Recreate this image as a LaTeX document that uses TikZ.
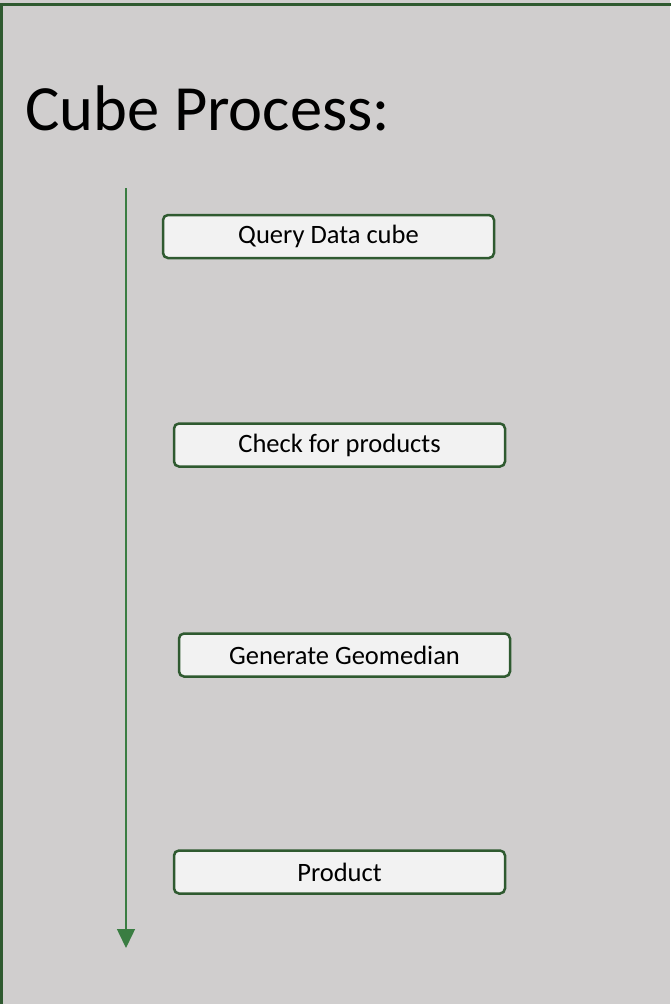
\documentclass[tikz,border=0pt]{standalone}
\usepackage{fontspec}
\setmainfont{Carlito}
\usetikzlibrary{arrows.meta}
\definecolor{cubebg}{HTML}{D0CECE}
\definecolor{cubeframe}{HTML}{2F5A30}
\definecolor{cubearrow}{HTML}{3A7D42}
\definecolor{stepfill}{HTML}{F2F2F2}
\tikzset{
  stepbox/.style={draw=cubeframe, fill=stepfill, line width=2.5pt,
    rounded corners=5pt, minimum width=331pt, minimum height=43pt,
    inner sep=0pt, font=\fontsize{26.5}{30}\selectfont},
  time arrow/.style={draw=cubearrow, line width=1.5pt,
    -{Triangle[width=18pt,length=19pt]}},
}
\begin{document}
\begin{tikzpicture}[x=1pt,y=-1pt]
  % Background and frame
  \fill[cubebg] (0,0) rectangle (670,1004);
  \useasboundingbox (0,0) rectangle (670,1004);
  \draw[cubeframe, line width=3pt] (1,1010) -- (1,4.5) -- (675,4.5);

  % Title
  \node[anchor=base west, inner sep=0pt, font=\fontsize{64.5}{70}\selectfont] (title) at (25,130) {Cube Process:};

  % Steps
  \node[stepbox] (query) at (328.5,236.5) {Query Data cube};
  \node[stepbox] (check) at (339.5,445) {Check for products};
  \node[stepbox] (geomedian) at (344.5,655) {Generate Geomedian};
  \node[stepbox] (product) at (339.5,872) {Product};

  % Arrow
  \coordinate (start) at (126,188);
  \coordinate (end) at (126,948);
  \draw[time arrow] (start) -- (end);
\end{tikzpicture}
\end{document}
